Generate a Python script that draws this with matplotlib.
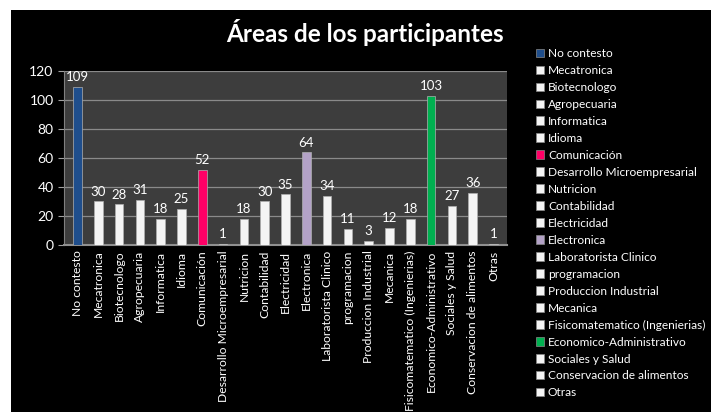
import numpy as np
import matplotlib.pyplot as plt
from matplotlib.patches import Patch, Rectangle

# Data
areas = ["No contesto", "Mecatronica", "Biotecnologo", "Agropecuaria", "Informatica",
         "Idioma", "Comunicación", "Desarrollo Microempresarial", "Nutricion",
         "Contabilidad", "Electricidad", "Electronica", "Laboratorista Clinico",
         "programacion", "Produccion Industrial", "Mecanica",
         "Fisicomatematico (Ingenierias)", "Economico-Administrativo",
         "Sociales y Salud", "Conservacion de alimentos", "Otras"]
counts = [109, 30, 28, 31, 18, 25, 52, 1, 18, 30, 35, 64, 34, 11, 3, 12, 18, 103, 27, 36, 1]

# highlighted bars, the rest are white
highlight = {"No contesto": "#1f4e8c", "Comunicación": "#ff0066",
             "Electronica": "#b3a2c7", "Economico-Administrativo": "#00b050"}
colors = [highlight.get(a, "#f4f4f4") for a in areas]

plt.rcParams['font.family'] = ['Lato', 'DejaVu Sans']

fig = plt.figure(figsize=(7.11, 4.12), dpi=100)
fig.patch.set_facecolor("white")
# black panel behind the chart
fig.patches.append(Rectangle((11 / 711, 0), 1, 1 - 10 / 412, transform=fig.transFigure,
                             facecolor="black", edgecolor="none", zorder=-10))

ax = fig.add_axes([64 / 711, 1 - 245 / 412, (507 - 64) / 711, (245 - 71) / 412])
ax.set_facecolor("#3d3d3d")

x = np.arange(len(areas))
bars = ax.bar(x, counts, width=0.42, color=colors, edgecolor="#b0b0b0", linewidth=0.5, zorder=3)

for xi, v in zip(x, counts):
    ax.text(xi, v + 2.5, str(v), ha="center", va="bottom", color="white", fontsize=9.5)

ax.set_ylim(0, 120)
ax.set_xlim(-0.65, len(areas) - 0.35)
ax.set_yticks(range(0, 121, 20))
ax.yaxis.grid(True, color="#8a8a8a", linewidth=0.9, zorder=0)
ax.set_xticks(x)
ax.set_xticklabels(areas, rotation=90, color="white", fontsize=8.7)
ax.tick_params(axis="y", colors="#a0a0a0", labelcolor="white", labelsize=10, length=4)
ax.tick_params(axis="x", length=0, pad=4)
for side in ["top", "right"]:
    ax.spines[side].set_visible(False)
ax.spines["left"].set_color("#808080")
ax.spines["bottom"].set_color("#909090")
ax.spines["bottom"].set_linewidth(1.5)

fig.text(365 / 711, 1 - 33 / 412, "Áreas de los participantes", ha="center", va="center",
         color="white", fontsize=17.5, fontweight="bold")

handles = [Patch(facecolor=c, edgecolor="#888888", linewidth=0.5) for c in colors]
leg = fig.legend(handles, areas, loc="upper left", bbox_to_anchor=(530 / 711, 1 - 42 / 412),
                 frameon=False, fontsize=8.6, labelcolor="white", handlelength=0.7,
                 handleheight=0.7, handletextpad=0.3, labelspacing=0.5, borderpad=0)

fig.savefig("out.png", dpi=100, facecolor=fig.get_facecolor())
